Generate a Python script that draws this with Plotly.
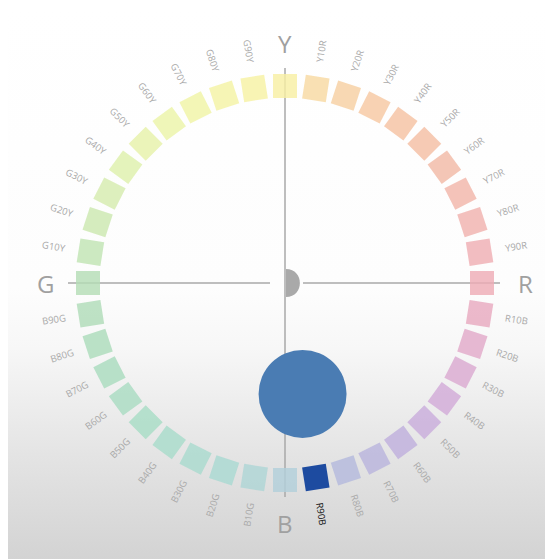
import numpy as np
import plotly.graph_objects as go

# NCS hue circle data
hue_names = ["Y", "Y10R", "Y20R", "Y30R", "Y40R", "Y50R", "Y60R", "Y70R", "Y80R", "Y90R",
             "R", "R10B", "R20B", "R30B", "R40B", "R50B", "R60B", "R70B", "R80B", "R90B",
             "B", "B10G", "B20G", "B30G", "B40G", "B50G", "B60G", "B70G", "B80G", "B90G",
             "G", "G10Y", "G20Y", "G30Y", "G40Y", "G50Y", "G60Y", "G70Y", "G80Y", "G90Y"]
hue_angle = [0, 9, 18, 27, 36, 45, 54, 63, 72, 81,
             90, 99, 108, 117, 126, 135, 144, 153, 162, 171,
             180, 189, 198, 207, 216, 225, 234, 243, 252, 261,
             270, 279, 288, 297, 306, 315, 324, 333, 342, 351]
hue_colors = ["#f8efa4", "#f8d9a2", "#f7cfa2", "#f6c8a2", "#f5c2a2", "#f4bea4", "#f2baa6", "#f1b6aa", "#f0b2ae", "#efafb3",
              "#eeacb6", "#e8aac0", "#e2a9c9", "#dba9d1", "#d2abd8", "#c9addc", "#c0b0dd", "#b9b4dd", "#b5b9dd", "#1d4ba0",
              "#b2d0da", "#aed6d6", "#aad9d2", "#a9dbce", "#a8dcca", "#a8ddc6", "#a9dcc2", "#aadcbe", "#acdcbb", "#b0dcb8",
              "#b4ddb6", "#c1e4b3", "#cce8b0", "#d6ecae", "#def0ac", "#e6f2aa", "#ecf4a8", "#f0f4a6", "#f4f3a5", "#f6f1a3"]
highlight = "R90B"

main_hues = ["Y", "R", "B", "G"]
main_angle = [0, 90, 180, 270]

# measured sample (hue R90B, relative chroma distance from centre)
sample_hue_angle = 171
sample_chroma = 0.57
sample_color = "#4a7cb3"

R_SQ = 197
R_LAB = 234
R_MAIN = 240

th = np.radians(hue_angle)
sx = R_SQ * np.sin(th)
sy = R_SQ * np.cos(th)

X0, X1 = -277, 276
Y0, Y1 = -284, 275

fig = go.Figure()

# photo-like background gradient
fig.add_trace(go.Scatter(
    x=[X0, X1, X1, X0, X0], y=[Y1, Y1, Y0, Y0, Y1],
    fill="toself", mode="none", hoverinfo="skip", showlegend=False,
    fillgradient=dict(type="vertical",
                      colorscale=[[0, "#d2d2d2"], [0.07, "#d8d8d8"], [0.2, "#e4e4e4"],
                                  [0.3, "#eeeeee"], [0.39, "#f7f7f7"], [0.5, "#fdfdfd"],
                                  [1, "#ffffff"]])))

# axis cross
line_style = dict(color="#a8a8a8", width=1.5)
fig.add_trace(go.Scatter(x=[0, 0], y=[215, -214], mode="lines", line=line_style,
                         hoverinfo="skip", showlegend=False))
fig.add_trace(go.Scatter(x=[-217, -15], y=[0, 0], mode="lines", line=line_style,
                         hoverinfo="skip", showlegend=False))
fig.add_trace(go.Scatter(x=[18, 215], y=[0, 0], mode="lines", line=line_style,
                         hoverinfo="skip", showlegend=False))

# hue squares
opac = [1.0 if n == highlight else 0.82 for n in hue_names]
fig.add_trace(go.Scatter(
    x=sx, y=sy, mode="markers", hoverinfo="text", text=hue_names, showlegend=False,
    marker=dict(symbol="square", size=24, color=hue_colors, angle=hue_angle,
                opacity=opac, line=dict(width=0))))

# sample circle
st = np.radians(sample_hue_angle)
fig.add_trace(go.Scatter(
    x=[sample_chroma * R_SQ * np.sin(st)], y=[sample_chroma * R_SQ * np.cos(st)],
    mode="markers", showlegend=False, hoverinfo="skip",
    marker=dict(size=88, color=sample_color, line=dict(width=0))))

annotations = []
for name, a in zip(hue_names, hue_angle):
    if name in main_hues:
        continue
    t = np.radians(a)
    if a <= 180:
        ta = a - 90
    else:
        ta = a + 90 - 360
    annotations.append(dict(
        x=R_LAB * np.sin(t), y=R_LAB * np.cos(t), text=name, showarrow=False,
        textangle=ta, xanchor="center", yanchor="middle",
        font=dict(family="Open Sans", size=9.5,
                  color="#111111" if name == highlight else "#a9a9a9")))
for name, a in zip(main_hues, main_angle):
    t = np.radians(a)
    annotations.append(dict(
        x=R_MAIN * np.sin(t), y=R_MAIN * np.cos(t), text=name, showarrow=False,
        xanchor="center", yanchor="middle",
        font=dict(family="Open Sans", size=24, color="#a0a0a0")))

fig.update_layout(
    width=553, height=559,
    margin=dict(l=0, r=0, t=0, b=0),
    paper_bgcolor="#ffffff", plot_bgcolor="#ffffff",
    xaxis=dict(range=[X0, X1], visible=False, fixedrange=True),
    yaxis=dict(range=[Y0, Y1], visible=False, fixedrange=True),
    annotations=annotations,
    shapes=[dict(type="path", xref="x", yref="y",
                 path="M 1,14 C 19.5,14 19.5,-14 1,-14 Z",
                 fillcolor="#a9a9a9", line=dict(width=0), layer="above")],
)

fig.write_html("out.html")
